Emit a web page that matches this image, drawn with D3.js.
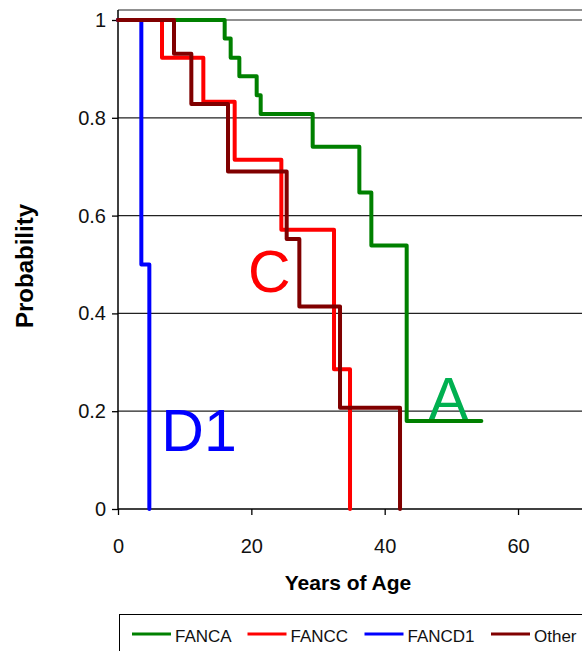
<!DOCTYPE html>
<html>
<head>
<meta charset="utf-8">
<script src="https://cdn.jsdelivr.net/npm/d3@7"></script>
<style>
  body { margin: 0; background: #fff; }
  svg { display: block; font-family: "Liberation Sans", Arial, sans-serif; }
</style>
</head>
<body>
<svg id="chart" width="582" height="651"></svg>
<script>
'use strict';

// Survival steps: age at each drop, probability after it
var fancaAges = [0, 16.0, 16.9, 18.2, 20.8, 21.4, 29.2, 36.2, 38.0, 43.3, 54.5];
var fancaProb = [1, 0.962, 0.923, 0.885, 0.846, 0.808, 0.741, 0.647, 0.539, 0.180, 0.180];

var fanccAges = [0, 6.6, 12.8, 17.5, 24.5, 32.4, 34.8];
var fanccProb = [1, 0.923, 0.833, 0.714, 0.571, 0.286, 0];

var fancd1Ages = [0, 3.5, 4.7];
var fancd1Prob = [1, 0.5, 0];

var otherAges = [0, 8.4, 11.0, 16.5, 25.3, 27.2, 33.3, 42.3];
var otherProb = [1, 0.931, 0.828, 0.690, 0.552, 0.414, 0.207, 0];

var seriesNames = ['FANCA', 'FANCC', 'FANCD1', 'Other'];
var seriesColors = ['#008000', '#ff0000', '#0000ff', '#800000'];

var xTicks = [0, 20, 40, 60];
var yTicks = [0, 0.2, 0.4, 0.6, 0.8, 1];

// big in-plot letters (left edge / baseline in data units)
var curveLabels = [
  {text: 'A', age: 46.6, prob: 0.184, color: '#00b050'},
  {text: 'C', age: 19.5, prob: 0.444, color: '#ff0000'},
  {text: 'D1', age: 6.5, prob: 0.119, color: '#0000ff'}
];

var svg = d3.select('#chart');

var x = d3.scaleLinear().domain([0, 70]).range([118, 584.7]);
var y = d3.scaleLinear().domain([0, 1]).range([509, 20]);
var plotTop = 10;

// gridlines
svg.append('g')
  .selectAll('line')
  .data(yTicks.filter(function(d) { return d > 0; }))
  .join('line')
  .attr('x1', x(0))
  .attr('x2', 582)
  .attr('y1', function(d) { return y(d); })
  .attr('y2', function(d) { return y(d); })
  .style('stroke', '#222')
  .style('stroke-width', 1.2);

// top border of plot
svg.append('line')
  .attr('x1', x(0)).attr('x2', 582)
  .attr('y1', plotTop).attr('y2', plotTop)
  .style('stroke', '#222')
  .style('stroke-width', 1.2);

var yAxis = svg.append('g')
  .attr('transform', 'translate(' + x(0) + ',0)')
  .call(d3.axisLeft(y).tickValues(yTicks).tickSize(6).tickPadding(6)
    .tickFormat(function(d) { return d3.format('')(d); }));
yAxis.select('.domain').remove();
yAxis.selectAll('text').style('font-size', '20px').style('fill', '#111');
yAxis.selectAll('line').style('stroke', '#000').style('stroke-width', 1.3);

var xAxis = svg.append('g')
  .attr('transform', 'translate(0,' + y(0) + ')')
  .call(d3.axisBottom(x).tickValues(xTicks).tickSize(6).tickPadding(24));
xAxis.select('.domain').remove();
xAxis.selectAll('text').style('font-size', '20px').style('fill', '#111');
xAxis.selectAll('line').style('stroke', '#000').style('stroke-width', 1.3);

// axis lines
svg.append('line')
  .attr('x1', x(0)).attr('x2', x(0))
  .attr('y1', plotTop).attr('y2', y(0))
  .style('stroke', '#000').style('stroke-width', 1.5);
svg.append('line')
  .attr('x1', x(0)).attr('x2', 582)
  .attr('y1', y(0)).attr('y2', y(0))
  .style('stroke', '#000').style('stroke-width', 1.5);

// curves, drawn in series order so Other ends up on top
var allAges = [fancaAges, fanccAges, fancd1Ages, otherAges];
var allProb = [fancaProb, fanccProb, fancd1Prob, otherProb];

var stepLine = d3.line()
  .x(function(d) { return x(d[0]); })
  .y(function(d) { return y(d[1]); })
  .curve(d3.curveStepAfter);

allAges.forEach(function(ages, i) {
  var pts = ages.map(function(a, j) { return [a, allProb[i][j]]; });
  svg.append('path')
    .datum(pts)
    .attr('d', stepLine)
    .style('fill', 'none')
    .style('stroke', seriesColors[i])
    .style('stroke-width', 4)
    .style('stroke-linejoin', 'round')
    .style('stroke-linecap', 'round');
});

svg.append('g')
  .selectAll('text')
  .data(curveLabels)
  .join('text')
  .attr('x', function(d) { return x(d.age); })
  .attr('y', function(d) { return y(d.prob); })
  .style('font-size', '59px')
  .style('fill', function(d) { return d.color; })
  .text(function(d) { return d.text; });

// axis titles
svg.append('text')
  .attr('x', 348)
  .attr('y', 590)
  .attr('text-anchor', 'middle')
  .style('font-size', '21px')
  .style('font-weight', 'bold')
  .text('Years of Age');

svg.append('text')
  .attr('transform', 'translate(33,266) rotate(-90)')
  .attr('text-anchor', 'middle')
  .style('font-size', '24px')
  .style('font-weight', 'bold')
  .text('Probability');

// legend
var legend = svg.append('g');
legend.append('rect')
  .attr('x', 119.5).attr('y', 614.5)
  .attr('width', 480).attr('height', 60)
  .style('fill', '#fff')
  .style('stroke', '#000')
  .style('stroke-width', 1);

var legendX = [132, 247.5, 364.5, 491];
seriesNames.forEach(function(name, i) {
  legend.append('line')
    .attr('x1', legendX[i]).attr('x2', legendX[i] + 39)
    .attr('y1', 634).attr('y2', 634)
    .style('stroke', seriesColors[i])
    .style('stroke-width', 3);
  legend.append('text')
    .attr('x', legendX[i] + 43)
    .attr('y', 642)
    .style('font-size', '17px')
    .style('fill', '#111')
    .text(name);
});
</script>
</body>
</html>
